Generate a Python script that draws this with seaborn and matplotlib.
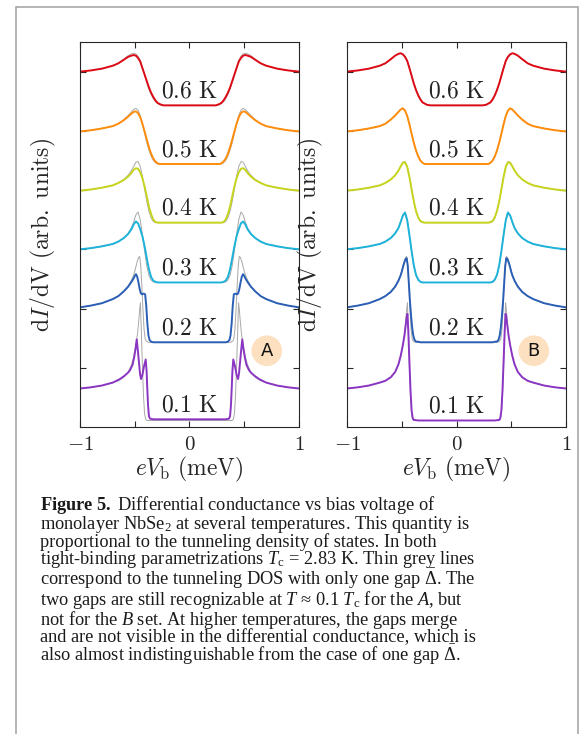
import numpy as np
import pandas as pd
import matplotlib
matplotlib.use("Agg")
import matplotlib.pyplot as plt
import matplotlib.patches as mpatches
import seaborn as sns

# ---- datos (mitad izquierda, eV_b <= 0; las curvas son simétricas) ----
temps = ["0.1 K", "0.2 K", "0.3 K", "0.4 K", "0.5 K", "0.6 K"]
colores = ["#8a36c2", "#2b5fb5", "#1cb2d9", "#c6d41c", "#ff8c0a", "#dc0a14"]

# malla común para 0.3 - 0.6 K
bias_g = [-1.0, -0.9, -0.8, -0.7, -0.65, -0.6, -0.56, -0.53, -0.51, -0.49, -0.47, -0.45,
          -0.43, -0.41, -0.39, -0.37, -0.35, -0.33, -0.31, -0.29, -0.27, -0.24, 0.0]
# malla 0.2 K
bias_02 = [-1.0, -0.9, -0.8, -0.7, -0.65, -0.6, -0.56, -0.53, -0.51, -0.50, -0.489, -0.478,
           -0.466, -0.455, -0.445, -0.435, -0.425, -0.415, -0.405, -0.395, -0.385, -0.375,
           -0.365, -0.35, -0.33, 0.0]
# malla 0.1 K (gris y B)
bias_01 = [-1.0, -0.9, -0.8, -0.7, -0.65, -0.6, -0.56, -0.53, -0.51, -0.49, -0.475, -0.465,
           -0.455, -0.448, -0.44, -0.43, -0.42, -0.41, -0.40, -0.39, -0.35, 0.0]
# malla 0.1 K (A, dos gaps)
bias_01A = [-1.0, -0.9, -0.8, -0.7, -0.635, -0.59, -0.56, -0.543, -0.52, -0.505, -0.492, -0.482,
            -0.472, -0.461, -0.452, -0.443, -0.43, -0.416, -0.40, -0.392, -0.385, -0.378,
            -0.37, -0.36, -0.33, 0.0]

# conjunto A
A_06 = [6.00, 6.02, 6.05, 6.10, 6.14, 6.20, 6.25, 6.27, 6.28, 6.27, 6.23, 6.17,
        6.06, 5.95, 5.84, 5.73, 5.64, 5.57, 5.51, 5.47, 5.45, 5.43, 5.43]
A_05 = [4.99, 5.01, 5.04, 5.08, 5.12, 5.18, 5.24, 5.29, 5.32, 5.33, 5.30, 5.23,
        5.12, 4.99, 4.85, 4.72, 4.61, 4.53, 4.48, 4.45, 4.44, 4.44, 4.44]
A_04 = [3.99, 4.01, 4.04, 4.08, 4.12, 4.17, 4.23, 4.29, 4.34, 4.37, 4.36, 4.30,
        4.20, 4.06, 3.89, 3.72, 3.59, 3.50, 3.46, 3.45, 3.45, 3.45, 3.45]
A_03 = [3.00, 3.02, 3.05, 3.09, 3.13, 3.19, 3.26, 3.34, 3.42, 3.47, 3.44, 3.34,
        3.22, 3.05, 2.85, 2.66, 2.53, 2.47, 2.45, 2.44, 2.44, 2.44, 2.44]
A_02 = [2.02, 2.05, 2.09, 2.16, 2.21, 2.29, 2.37, 2.45, 2.51, 2.55, 2.58, 2.54,
        2.44, 2.33, 2.26, 2.24, 2.25, 2.25, 2.24, 2.05, 1.75, 1.55, 1.47, 1.44, 1.43, 1.43]
A_01 = [0.65, 0.67, 0.70, 0.75, 0.81, 0.87, 0.92, 0.96, 1.05, 1.18, 1.33, 1.48,
        1.30, 1.08, 0.90, 0.81, 0.88, 1.02, 1.14, 0.95, 0.63, 0.35, 0.18, 0.14, 0.13, 0.13]

# conjunto B
B_06 = [6.00, 6.02, 6.05, 6.10, 6.14, 6.21, 6.27, 6.30, 6.31, 6.29, 6.25, 6.18,
        6.06, 5.93, 5.80, 5.69, 5.60, 5.53, 5.48, 5.46, 5.44, 5.43, 5.43]
B_05 = [4.99, 5.01, 5.04, 5.08, 5.12, 5.19, 5.26, 5.32, 5.36, 5.38, 5.34, 5.25,
        5.11, 4.95, 4.80, 4.67, 4.57, 4.50, 4.46, 4.44, 4.44, 4.44, 4.44]
B_04 = [3.99, 4.01, 4.04, 4.08, 4.12, 4.18, 4.25, 4.33, 4.40, 4.46, 4.47, 4.39,
        4.22, 4.01, 3.81, 3.65, 3.54, 3.48, 3.46, 3.45, 3.45, 3.45, 3.45]
B_03 = [3.00, 3.02, 3.05, 3.09, 3.13, 3.19, 3.27, 3.36, 3.46, 3.57, 3.62, 3.49,
        3.24, 2.97, 2.73, 2.57, 2.49, 2.45, 2.44, 2.44, 2.44, 2.44, 2.44]
B_02 = [2.02, 2.05, 2.09, 2.16, 2.21, 2.28, 2.37, 2.47, 2.56, 2.62, 2.70, 2.77,
        2.83, 2.85, 2.72, 2.42, 2.12, 1.88, 1.68, 1.55, 1.48, 1.45, 1.44, 1.44, 1.43, 1.43]
B_01 = [0.65, 0.67, 0.70, 0.75, 0.78, 0.84, 0.93, 1.06, 1.20, 1.38, 1.55, 1.70,
        1.86, 1.91, 1.62, 1.10, 0.62, 0.28, 0.15, 0.12, 0.11, 0.11]

# un solo gap (líneas grises)
G_06 = [6.00, 6.02, 6.05, 6.10, 6.14, 6.21, 6.27, 6.30, 6.31, 6.30, 6.26, 6.19,
        6.07, 5.94, 5.81, 5.70, 5.61, 5.54, 5.49, 5.46, 5.44, 5.43, 5.43]
G_05 = [4.99, 5.01, 5.04, 5.08, 5.12, 5.19, 5.26, 5.32, 5.36, 5.38, 5.35, 5.26,
        5.12, 4.96, 4.80, 4.67, 4.57, 4.50, 4.46, 4.44, 4.44, 4.44, 4.44]
G_04 = [3.99, 4.01, 4.04, 4.08, 4.12, 4.18, 4.25, 4.33, 4.40, 4.47, 4.48, 4.40,
        4.23, 4.02, 3.81, 3.64, 3.53, 3.47, 3.45, 3.45, 3.45, 3.45, 3.45]
G_03 = [3.00, 3.02, 3.05, 3.09, 3.13, 3.19, 3.27, 3.36, 3.46, 3.58, 3.63, 3.50,
        3.25, 2.97, 2.72, 2.56, 2.48, 2.45, 2.44, 2.44, 2.44, 2.44, 2.44]
G_02 = [2.02, 2.05, 2.09, 2.16, 2.21, 2.29, 2.38, 2.48, 2.57, 2.63, 2.71, 2.79,
        2.86, 2.88, 2.72, 2.38, 1.98, 1.65, 1.49, 1.45, 1.44, 1.43, 1.43, 1.43, 1.43, 1.43]
G_01 = [0.65, 0.67, 0.70, 0.75, 0.78, 0.84, 0.93, 1.05, 1.18, 1.38, 1.57, 1.76,
        1.98, 2.10, 1.62, 1.02, 0.52, 0.22, 0.13, 0.11, 0.11, 0.11]

curvas_A = [(bias_01A, A_01), (bias_02, A_02), (bias_g, A_03), (bias_g, A_04), (bias_g, A_05), (bias_g, A_06)]
curvas_B = [(bias_01, B_01), (bias_02, B_02), (bias_g, B_03), (bias_g, B_04), (bias_g, B_05), (bias_g, B_06)]
curvas_G = [(bias_01, G_01), (bias_02, G_02), (bias_g, G_03), (bias_g, G_04), (bias_g, G_05), (bias_g, G_06)]


def espejo(x, y):
    # completa la parte eV_b > 0 reflejando la mitad leída
    x = np.asarray(x)
    y = np.asarray(y)
    return np.concatenate([x, -x[::-1][1:]]), np.concatenate([y, y[::-1][1:]])


def tabla(curvas):
    filas = []
    for t, (x, y) in zip(temps, curvas):
        xx, yy = espejo(x, y)
        filas.append(pd.DataFrame({"bias": xx, "didv": yy, "T": t}))
    return pd.concat(filas, ignore_index=True)


sns.set_style("ticks")
plt.rcParams["mathtext.fontset"] = "cm"
plt.rcParams["mathtext.rm"] = "Liberation Serif"
plt.rcParams["mathtext.it"] = "Liberation Serif:italic"
plt.rcParams["mathtext.bf"] = "Liberation Serif:bold"
plt.rcParams["xtick.direction"] = "in"
plt.rcParams["ytick.direction"] = "in"

fig = plt.figure(figsize=(5.81, 7.34), dpi=100)
ax_A = fig.add_axes([80 / 581, 1 - 427 / 734, 219 / 581, 385 / 734])
ax_B = fig.add_axes([347 / 581, 1 - 427 / 734, 219 / 581, 385 / 734])

df_G = tabla(curvas_G)
for ax, curvas, letra in [(ax_A, curvas_A, "A"), (ax_B, curvas_B, "B")]:
    df = tabla(curvas)
    sns.lineplot(data=df_G, x="bias", y="didv", units="T", estimator=None, sort=False,
                 color="#a8a8a8", lw=0.7, ax=ax, legend=False)
    sns.lineplot(data=df, x="bias", y="didv", hue="T", palette=colores, estimator=None,
                 sort=False, lw=1.4, ax=ax, legend=False)
    for t, (x, y) in zip(temps, curvas):
        ax.text(0, y[-1] + 0.25, r"$%s\ \mathrm{K}$" % t.split()[0], ha="center", va="center",
                fontsize=17, color="#222222")
    ax.text(0.853, 0.198, letra, transform=ax.transAxes, ha="center", va="center",
            fontsize=13, family="DejaVu Sans", color="#111111",
            bbox=dict(boxstyle="circle,pad=0.35", fc="#fde0bf", ec="none"))
    ax.set_xlim(-1, 1)
    ax.set_ylim(0, 6.5)
    ax.set_xticks([-1, -0.5, 0, 0.5, 1], labels=[r"$-1$", "", r"$0$", "", r"$1$"])
    ax.set_yticks([1, 2, 3, 4, 5, 6], labels=[])
    ax.tick_params(top=True, right=True, length=4, width=0.8, labelsize=15, pad=5)
    for s in ax.spines.values():
        s.set_linewidth(0.8)
    ax.set_xlabel(r"$eV_{\rm b}\ (\mathrm{meV})$", fontsize=17)
    ax.set_ylabel(r"$\mathrm{d}I/\mathrm{dV}\ (\mathrm{arb.\ units})$", fontsize=17)
    ax.xaxis.set_label_coords(0.5, -0.072)
    ax.yaxis.set_label_coords(-0.1, 0.5)

# marco gris de la figura
fig.patches.append(mpatches.Rectangle((16 / 581, -0.02), 562 / 581, 1.02 - 7 / 734,
                                      transform=fig.transFigure, fill=False,
                                      ec="#a0a0a0", lw=1.1))

# pie de figura (un solo bloque de texto)
pie = [
    r"$\mathbf{Figure\ 5.}$ Differential conductance vs bias voltage of",
    r"monolayer NbSe$_2$ at several temperatures. This quantity is",
    r"proportional to the tunneling density of states. In both",
    r"tight-binding parametrizations $T_{\rm c}$ = 2.83 K. Thin grey lines",
    r"correspond to the tunneling DOS with only one gap $\bar{\Delta}$. The",
    r"two gaps are still recognizable at $T$ ≈ 0.1 $T_{\rm c}$ for the $A$, but",
    r"not for the $B$ set. At higher temperatures, the gaps merge",
    r"and are not visible in the differential conductance, which is",
    r"also almost indistinguishable from the case of one gap $\bar{\Delta}$.",
]
t = fig.text(40 / 581, 1 - 494 / 734, "\n".join(pie), ha="left", va="top",
             fontsize=13.2, family="Liberation Serif", color="#1a1a1a", linespacing=0.86)
t.set_math_fontfamily("custom")

fig.savefig("out.png", dpi=100)
